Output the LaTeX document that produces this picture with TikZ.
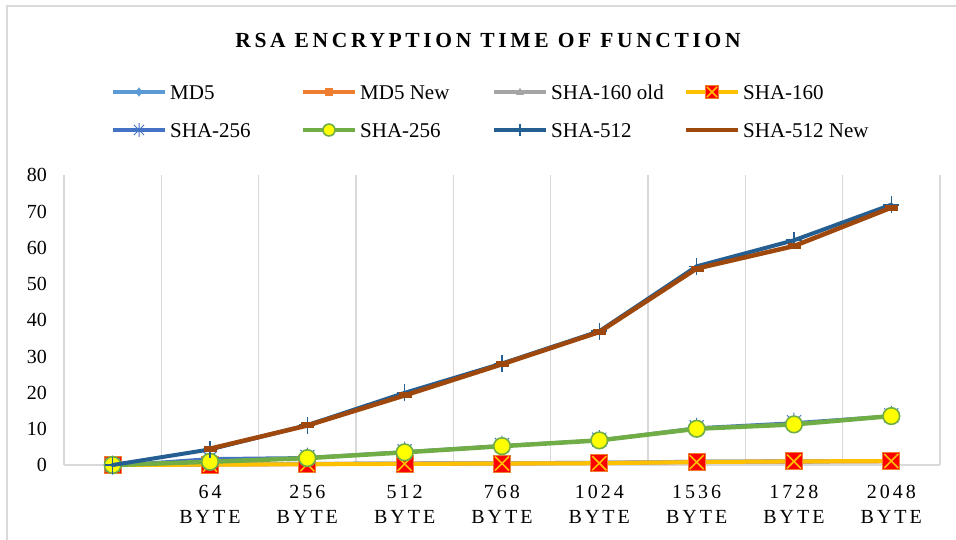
\documentclass[tikz,border=0pt]{standalone}
\usepackage{fontspec}
\setmainfont{Liberation Serif}
\newfontfamily\trackfont[LetterSpace=15]{Liberation Serif}
\newfontfamily\titlefont[LetterSpace=17]{Liberation Serif}

\definecolor{gridgray}{HTML}{D9D9D9}
\definecolor{cmdfive}{HTML}{5B9BD5}
\definecolor{cmdnew}{HTML}{ED7D31}
\definecolor{cshaold}{HTML}{A5A5A5}
\definecolor{cshaone}{HTML}{FFC000}
\definecolor{cshatwoa}{HTML}{4472C4}
\definecolor{cshatwob}{HTML}{70AD47}
\definecolor{cshafive}{HTML}{255E91}
\definecolor{cshafivenew}{HTML}{9E480E}
\definecolor{mkred}{HTML}{FF0000}
\definecolor{mkyellow}{HTML}{FFFF00}

\tikzset{
  % marker symbols, drawn in absolute units
  mdiamond/.pic={\fill[cmdfive] (0pt,6.5pt)--(5pt,0pt)--(0pt,-6.5pt)--(-5pt,0pt)--cycle;},
  msquare/.pic={\fill[cmdnew] (-5pt,-5pt) rectangle (5pt,5pt);},
  mtriangle/.pic={\fill[cshaold] (0pt,6pt)--(5.5pt,-4pt)--(-5.5pt,-4pt)--cycle;},
  mxbox/.pic={\draw[draw=cmdnew,fill=mkred,line width=0.8pt] (-8.5pt,-8.5pt) rectangle (8.5pt,8.5pt);
              \draw[cshaone,line width=1.6pt] (-7pt,-7pt)--(7pt,7pt) (-7pt,7pt)--(7pt,-7pt);},
  mstar/.pic={\draw[cshatwoa,line width=1pt] (-7pt,-7pt)--(7pt,7pt) (-7pt,7pt)--(7pt,-7pt) (0pt,-9.5pt)--(0pt,9.5pt);},
  mcircle/.pic={\draw[draw=cshatwob,fill=mkyellow,line width=1.6pt] (0pt,0pt) circle[radius=8.3pt];},
  mplus/.pic={\draw[cshafive,line width=1.6pt] (-8pt,0pt)--(8pt,0pt) (0pt,-8.5pt)--(0pt,8.5pt);},
  mdash/.pic={\fill[cshafivenew] (-6pt,-3pt) rectangle (7pt,3pt);},
  series/.style={line width=#1,line join=round,line cap=round},
  gridline/.style={draw=gridgray,line width=1.3pt},
  ylab/.style={anchor=base east,inner sep=0pt,font=\fontsize{20}{24}\selectfont},
  xlab/.style={anchor=base,inner sep=0pt,align=center,font=\trackfont\fontsize{20}{25}\selectfont},
  legtext/.style={anchor=base west,inner sep=0pt,font=\fontsize{21}{25}\selectfont},
  legline/.style={line width=4.5pt},
}

% #1 line style, #2 marker, #3 first point, #4 further category/value pairs
\newcommand\drawseries[4]{%
  \draw[#1] (#3) \foreach \i/\v in {#4} {-- (\i,\v)};
  \pic at (#3) {#2};
  \foreach \i/\v in {#4} \pic at (\i,\v) {#2};
}

\begin{document}
\begin{tikzpicture}[x=1pt,y=-1pt]
\useasboundingbox (0,0) rectangle (956,539);
\fill[white] (0,0) rectangle (956,539);

% chart frame
\draw[gridgray,line width=1.4pt] (7,545) -- (7,6) -- (960,6);

% title
\node[anchor=base,inner sep=0pt,font=\titlefont\bfseries\fontsize{21.5}{25}\selectfont] (title) at (488,47)
  {RSA ENCRYPTION TIME OF FUNCTION};

% legend
\foreach \lx/\ly/\col/\mk/\txt/\nm in {
    113/92/cmdfive/mdiamond/MD5/la,
    303/92/cmdnew/msquare/MD5 New/lb,
    494/92/cshaold/mtriangle/SHA-160 old/lc,
    686/92/cshaone/mxbox/SHA-160/ld,
    113/130/cshatwoa/mstar/SHA-256/le,
    303/130/cshatwob/mcircle/SHA-256/lf,
    494/130/cshafive/mplus/SHA-512/lg,
    686/130/cshafivenew/mdash/SHA-512 New/lh} {
  \draw[legline,\col] (\lx,\ly) -- (\lx+52,\ly);
  \pic[scale=0.72] at (\lx+26,\ly) {\mk};
  \node[legtext] (\nm) at (\lx+57,\ly+7) {\txt};
}

% vertical grid lines and category axis
\foreach \k in {0,...,9}
  \draw[gridline] (64+97.33*\k,175) -- (64+97.33*\k,465);
\draw[gridline] (64,465) -- (940,465);

% value axis labels
\foreach \val in {0,10,...,80}
  \node[ylab] (y\val) at (47,465-3.625*\val+6.8) {\val};

% category labels (number above BYTE)
\foreach \lab [count=\k] in {64,256,512,768,1024,1536,1728,2048}
  \node[xlab] (x\lab) at (64+97.33*\k+48.67,523) {\lab\\BYTE};

% data series: x = category index, y = time
\begin{scope}[shift={(112.67,465)},x=97.33pt,y=3.625pt]
  \drawseries{series=4pt,cmdfive}{mdiamond}{0,0}
    {1/0.2,2/0.3,3/0.4,4/0.5,5/0.6,6/0.9,7/1.0,8/1.1}
  \drawseries{series=4pt,cmdnew}{msquare}{0,0}
    {1/0.15,2/0.25,3/0.35,4/0.45,5/0.55,6/0.85,7/0.95,8/1.05}
  \drawseries{series=4pt,cshaold}{mtriangle}{0,0}
    {1/0.2,2/0.3,3/0.4,4/0.5,5/0.6,6/0.9,7/1.0,8/1.1}
  \drawseries{series=4pt,cshaone}{mxbox}{0,0}
    {1/0.1,2/0.2,3/0.3,4/0.4,5/0.5,6/0.8,7/1.0,8/1.1}
  \drawseries{series=2pt,cshatwoa}{mstar}{0,0}
    {1/1.9,2/2.2,3/3.8,4/5.5,5/7.0,6/10.4,7/11.8,8/13.7}
  \drawseries{series=4.5pt,cshatwob}{mcircle}{0,0}
    {1/0.9,2/1.9,3/3.5,4/5.2,5/6.8,6/10.0,7/11.2,8/13.5}
  \drawseries{series=4pt,cshafive}{mplus}{0,0}
    {1/4.3,2/11,3/19.9,4/28,5/36.9,6/54.8,7/62,8/71.8}
  \drawseries{series=4.5pt,cshafivenew}{mdash}{1,4.5}
    {2/10.9,3/19.2,4/27.8,5/36.7,6/54.2,7/60.4,8/71.0}
\end{scope}
\end{tikzpicture}
\end{document}
